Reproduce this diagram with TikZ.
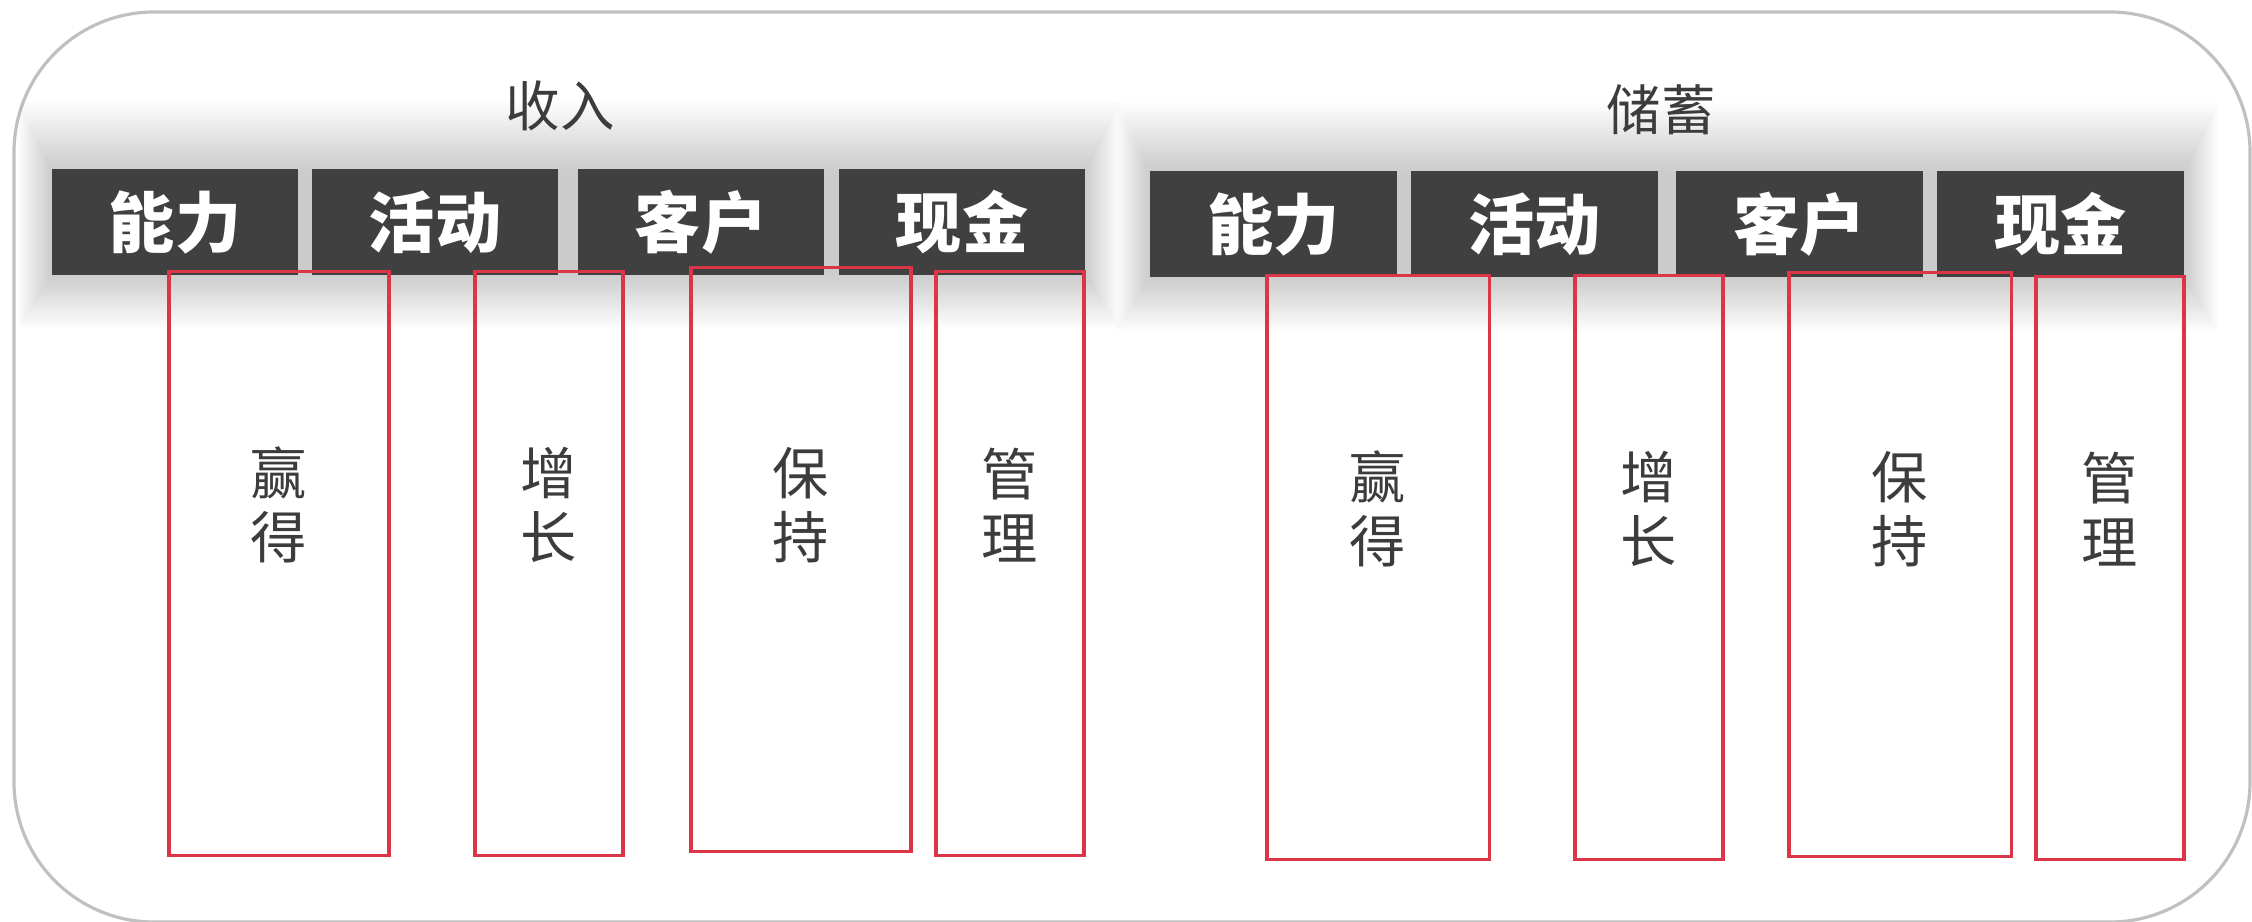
\documentclass[tikz,border=0pt]{standalone}
\usepackage{fontspec}
\newfontfamily\cjk{Noto Sans CJK SC}
\definecolor{hdr}{RGB}{64,64,64}
\definecolor{redline}{RGB}{218,54,72}
\definecolor{txt}{RGB}{60,60,60}
\definecolor{frame}{RGB}{192,192,192}
\tikzset{
  hdrbox/.style={rectangle, fill=hdr, inner sep=0pt, outer sep=0pt, text=white,
    font={\cjk\bfseries\fontsize{18.8}{20}\selectfont}, minimum height=1.05cm},
  redbox/.style={rectangle, draw=redline, line width=0.9pt, inner sep=0pt, outer sep=0pt, minimum height=5.83cm},
  coltext/.style={text=txt, align=center, inner sep=0pt, font={\cjk\fontsize{16}{18.2}\selectfont}},
  titletext/.style={text=txt, inner sep=0pt, font={\cjk\fontsize{15.5}{17}\selectfont}},
}
\begin{document}
\begin{tikzpicture}[x=0.01cm,y=-0.01cm]
\useasboundingbox (0,0) rectangle (2252,921);
\clip (0,0) rectangle (2252,921);
% outer frame
\draw[frame, line width=0.9pt, rounded corners=1.4cm] (14,12) rectangle (2250,922);
% shadows
\foreach \k in {0,...,17}{
  \fill[black, opacity=0.013] (52-\k*2,170-\k*4) rectangle (1085+\k*2,274+\k*3.2);
  \fill[black, opacity=0.013] (1150-\k*2,171-\k*4) rectangle (2184+\k*2,277+\k*3.2);
}
% titles
\node[titletext] (t1) at (560,106) {收入};
\node[titletext] (t2) at (1661,110) {储蓄};
% left headers
\node[hdrbox, minimum width=2.46cm] (h1) at (175,222) {能力};
\node[hdrbox, minimum width=2.46cm] (h2) at (435,222) {活动};
\node[hdrbox, minimum width=2.46cm] (h3) at (701,222) {客户};
\node[hdrbox, minimum width=2.46cm] (h4) at (962,222) {现金};
% right headers
\node[hdrbox, minimum width=2.47cm] (g1) at (1273.5,224) {能力};
\node[hdrbox, minimum width=2.47cm] (g2) at (1534.5,224) {活动};
\node[hdrbox, minimum width=2.47cm] (g3) at (1799.5,224) {客户};
\node[hdrbox, minimum width=2.47cm] (g4) at (2060.5,224) {现金};
% left red boxes
\node[redbox, minimum width=2.20cm] (r1) at (279,563.5) {};
\node[redbox, minimum width=1.48cm] (r2) at (549,563.5) {};
\node[redbox, minimum width=2.20cm] (r3) at (801,559.5) {};
\node[redbox, minimum width=1.48cm] (r4) at (1010,563.5) {};
% right red boxes
\node[redbox, minimum width=2.22cm] (s1) at (1378,567.5) {};
\node[redbox, minimum width=1.48cm] (s2) at (1649,567.5) {};
\node[redbox, minimum width=2.22cm] (s3) at (1900,564.5) {};
\node[redbox, minimum width=1.48cm] (s4) at (2110,568) {};
% column texts
\node[coltext] (c1) at (279,505) {赢\\得};
\node[coltext] (c2) at (549,505) {增\\长};
\node[coltext] (c3) at (801,505) {保\\持};
\node[coltext] (c4) at (1010,505) {管\\理};
\node[coltext] (d1) at (1378,509) {赢\\得};
\node[coltext] (d2) at (1649,509) {增\\长};
\node[coltext] (d3) at (1900,509) {保\\持};
\node[coltext] (d4) at (2110,509) {管\\理};
\end{tikzpicture}
\end{document}
